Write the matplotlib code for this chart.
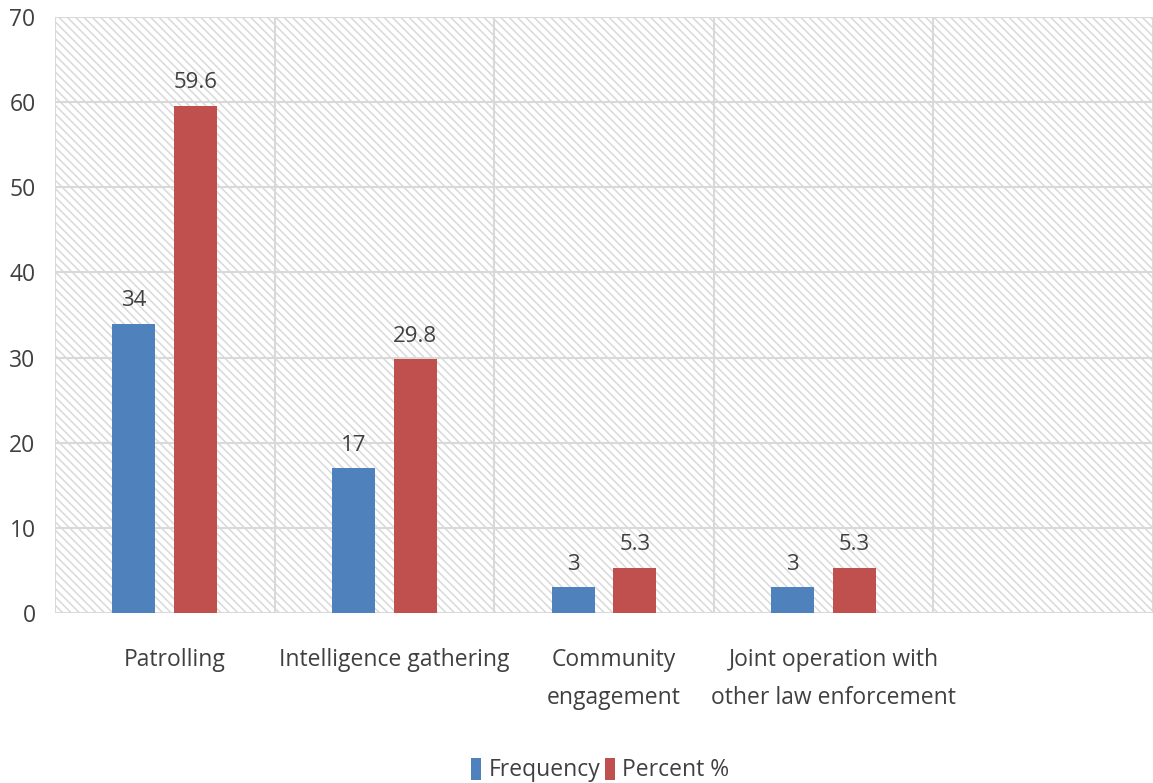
import matplotlib.pyplot as plt
import matplotlib.transforms as mtransforms
import numpy as np

plt.rcParams['font.family'] = ['Open Sans', 'DejaVu Sans']
plt.rcParams['hatch.color'] = '#d9d9d9'
plt.rcParams['hatch.linewidth'] = 1.1

# Data
categories = ["Patrolling", "Intelligence gathering", "Community\nengagement",
              "Joint operation with\nother law enforcement", ""]
frequency = [34, 17, 3, 3]
percent = [59.6, 29.8, 5.3, 5.3]
freq_labels = ["34", "17", "3", "3"]
pct_labels = ["59.6", "29.8", "5.3", "5.3"]

blue = "#4F81BD"
red = "#C0504D"
text_color = "#404040"
grid_color = "#d9d9d9"

fig = plt.figure(figsize=(11.53, 7.83), dpi=100)
ax = fig.add_axes([0.0477, 0.2171, 0.9523, 0.7612])

# hatched background
ax.patch.set_facecolor('white')
ax.patch.set_hatch('\\\\\\\\')
ax.patch.set_edgecolor('#d9d9d9')

x = np.arange(len(frequency))
bar_width = 0.196
offset = 0.141
b1 = ax.bar(x - offset, frequency, bar_width, color=blue, label="Frequency", zorder=3)
b2 = ax.bar(x + offset, percent, bar_width, color=red, label="Percent %", zorder=3)

for rect, lab in zip(b1, freq_labels):
    ax.annotate(lab, (rect.get_x() + rect.get_width() / 2, rect.get_height()),
                xytext=(0, 9), textcoords='offset points', ha='center', va='bottom',
                fontsize=16, color=text_color)
for rect, lab in zip(b2, pct_labels):
    ax.annotate(lab, (rect.get_x() + rect.get_width() / 2, rect.get_height()),
                xytext=(0, 9), textcoords='offset points', ha='center', va='bottom',
                fontsize=16, color=text_color)

ax.set_xlim(-0.5, 4.5)
ax.set_ylim(0, 70)
ax.set_yticks(range(0, 71, 10))

# grid lines
for y in range(0, 71, 10):
    ax.axhline(y, color=grid_color, linewidth=1.5, zorder=1)
for xb in np.arange(-0.5, 4.6, 1.0):
    ax.axvline(xb, color=grid_color, linewidth=1.5, zorder=1)

ax.set_xticks(range(len(categories)))
ax.set_xticklabels(categories, fontsize=16.5, color=text_color, linespacing=1.8, va='top')
ax.tick_params(axis='x', length=0, pad=25)
ax.tick_params(axis='y', length=0, pad=14, labelsize=16.5, labelcolor=text_color)

# labels sit slightly right of the slot centres
shift = mtransforms.ScaledTranslation(10 / 100, 0, fig.dpi_scale_trans)
for lbl in ax.get_xticklabels():
    lbl.set_transform(lbl.get_transform() + shift)

for s in ax.spines.values():
    s.set_visible(False)

leg = fig.legend(handles=[b1, b2], labels=["Frequency", "Percent %"], loc='center',
                 bbox_to_anchor=(600 / 1153, 1 - 770 / 783), ncol=2, frameon=False,
                 fontsize=16.5, handlelength=0.45, handleheight=1.1, handletextpad=0.3,
                 columnspacing=0.2, labelcolor=text_color)

fig.savefig("out.png", dpi=100)
